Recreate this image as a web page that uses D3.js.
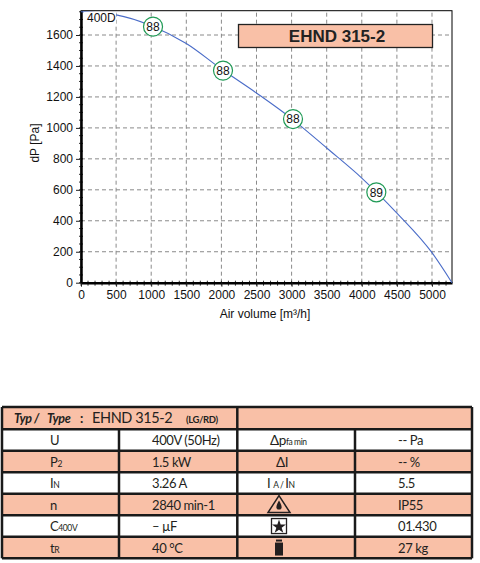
<!DOCTYPE html>
<html>
<head>
<meta charset="utf-8">
<script src="https://cdn.jsdelivr.net/npm/d3@7"></script>
<style>
  body { margin: 0; background: #fff; }
  svg { display: block; }
</style>
</head>
<body>
<svg></svg>
<script>
// fan curve
var flow = [0, 500, 1000, 1500, 2000, 2500, 3000, 3500, 4000, 4500, 5000, 5285];
var dp = [1750, 1730, 1660, 1545, 1380, 1225, 1060, 870, 676, 450, 194, 0];

// efficiency markers on the curve
var markFlow = [1026, 2023, 3020, 4207];
var markDp = [1654, 1370, 1057, 584];
var markText = ["88", "88", "88", "89"];

var xTicks = [0, 500, 1000, 1500, 2000, 2500, 3000, 3500, 4000, 4500, 5000];
var yTicks = [0, 200, 400, 600, 800, 1000, 1200, 1400, 1600];

// table
var rowMain = ["U", "P", "I", "n", "C", "t"];
var rowSub = ["", "2", "N", "", "400V", "R"];
var rowValue = ["400V (50Hz)", "1.5 kW", "3.26 A", "2840 min-1", "\u2013 \u00b5F", "40 \u00b0C"];
var rowValue2 = ["-- Pa", "-- %", "5.5", "IP55", "01.430", "27 kg"];

var W = 480, H = 563;
var salmon = "#f9c0a7";

var svg = d3.select('svg')
    .attr('width', W)
    .attr('height', H);

var x = d3.scaleLinear().domain([0, 5285]).range([81, 452]);
var y = d3.scaleLinear().domain([0, 1757]).range([282.7, 10.7]);

var chartFont = "'Liberation Sans', Arial, sans-serif";

// grid
svg.append('g')
    .selectAll('line')
    .data(xTicks.slice(1))
    .enter()
    .append('line')
    .attr('x1', d => x(d)).attr('x2', d => x(d))
    .attr('y1', y.range()[0]).attr('y2', y.range()[1])
    .attr('stroke', '#8a8a8a')
    .attr('stroke-dasharray', '4,3');

svg.append('g')
    .selectAll('line')
    .data(yTicks.slice(1))
    .enter()
    .append('line')
    .attr('y1', d => y(d)).attr('y2', d => y(d))
    .attr('x1', x.range()[0]).attr('x2', x.range()[1])
    .attr('stroke', '#8a8a8a')
    .attr('stroke-dasharray', '4,3');

// frame
svg.append('rect')
    .attr('x', x.range()[0]).attr('y', y.range()[1])
    .attr('width', x.range()[1] - x.range()[0])
    .attr('height', y.range()[0] - y.range()[1])
    .attr('fill', 'none')
    .attr('stroke', '#000')
    .attr('stroke-width', 1);

// minor ticks
svg.append('g')
    .selectAll('line')
    .data(d3.range(0, 5300, 100))
    .enter()
    .append('line')
    .attr('x1', d => x(d)).attr('x2', d => x(d))
    .attr('y1', y(0) - 2).attr('y2', y(0) + 3)
    .attr('stroke', '#333');

svg.append('g')
    .selectAll('line')
    .data(d3.range(0, 1757, 50))
    .enter()
    .append('line')
    .attr('y1', d => y(d)).attr('y2', d => y(d))
    .attr('x1', x(0) - 2).attr('x2', x(0) + 2)
    .attr('stroke', '#333');

// axes
var xAxis = svg.append('g')
    .attr('transform', 'translate(0,' + y(0) + ')')
    .call(d3.axisBottom(x).tickValues(xTicks).tickFormat(d3.format('d'))
        .tickSize(4).tickSizeOuter(0).tickPadding(4));
var yAxis = svg.append('g')
    .attr('transform', 'translate(' + x(0) + ',0)')
    .call(d3.axisLeft(y).tickValues(yTicks).tickFormat(d3.format('d'))
        .tickSize(5).tickSizeOuter(0).tickPadding(3));

[xAxis, yAxis].forEach(function(a) {
    a.select('.domain').attr('stroke', '#000').attr('stroke-width', 2.5);
    a.selectAll('text').attr('font-family', chartFont).attr('font-size', '12px').attr('fill', '#111');
    a.selectAll('.tick line').attr('stroke', '#222');
});

svg.append('text')
    .attr('x', 265).attr('y', 318)
    .attr('text-anchor', 'middle')
    .attr('font-family', chartFont).attr('font-size', '12px').attr('fill', '#111')
    .text('Air volume [m\u00b3/h]');

svg.append('text')
    .attr('transform', 'translate(39,143) rotate(-90)')
    .attr('text-anchor', 'middle')
    .attr('font-family', chartFont).attr('font-size', '12px').attr('fill', '#111')
    .text('dP [Pa]');

// curve
var line = d3.line()
    .x(function(d, i) { return x(flow[i]); })
    .y(function(d) { return y(d); })
    .curve(d3.curveMonotoneX);

svg.append('path')
    .datum(dp)
    .attr('d', line)
    .attr('fill', 'none')
    .attr('stroke', '#4a6cc8')
    .attr('stroke-width', 1.1);

// curve name, on a white patch like the original
svg.append('rect')
    .attr('x', 84).attr('y', 12)
    .attr('width', 32).attr('height', 14)
    .attr('fill', '#fff');
svg.append('text')
    .attr('x', 87).attr('y', 22)
    .attr('font-family', chartFont).attr('font-size', '12px').attr('fill', '#111')
    .text('400D');

var marks = svg.append('g')
    .selectAll('g')
    .data(markFlow)
    .enter()
    .append('g')
    .attr('transform', function(d, i) { return 'translate(' + x(d) + ',' + y(markDp[i]) + ')'; });

marks.append('circle')
    .attr('r', 9.5)
    .attr('fill', '#fff')
    .attr('stroke', '#1f9a55')
    .attr('stroke-width', 1.2);

marks.append('text')
    .attr('y', 4.3)
    .attr('text-anchor', 'middle')
    .attr('font-family', chartFont).attr('font-size', '12px').attr('fill', '#111')
    .text(function(d, i) { return markText[i]; });

// title box
svg.append('rect')
    .attr('x', 238.5).attr('y', 24.5)
    .attr('width', 194).attr('height', 23)
    .attr('fill', salmon)
    .attr('stroke', '#222')
    .attr('stroke-width', 1.3);

svg.append('text')
    .attr('x', 337).attr('y', 42)
    .attr('text-anchor', 'middle')
    .attr('font-family', chartFont).attr('font-size', '17px').attr('font-weight', 'bold').attr('fill', '#222')
    .text('EHND 315-2');

// ---- data table ----
var tFont = "Lato, 'Open Sans', sans-serif";
var tSize = '13px', tSub = '8.5px', tLs = '-0.4px';
var tLeft = 2, tRight = 472, tTop = 407, headBottom = 429.3, rowH = 21.5;
var colX = [tLeft, 119, 237.3, 355, tRight];

var tbl = svg.append('g').attr('letter-spacing', tLs);

tbl.append('rect')
    .attr('x', tLeft).attr('y', tTop)
    .attr('width', tRight - tLeft).attr('height', headBottom - tTop)
    .attr('fill', salmon);

tbl.selectAll('rect.row')
    .data(rowMain)
    .enter()
    .append('rect')
    .attr('class', 'row')
    .attr('x', tLeft)
    .attr('y', function(d, i) { return headBottom + i * rowH; })
    .attr('width', tRight - tLeft)
    .attr('height', rowH)
    .attr('fill', function(d, i) { return i % 2 ? salmon : '#fff'; });

var tBottom = headBottom + rowMain.length * rowH;

// horizontal rules
tbl.selectAll('line.h')
    .data(d3.range(rowMain.length + 2))
    .enter()
    .append('line')
    .attr('x1', tLeft).attr('x2', tRight)
    .attr('y1', function(d) { return d === 0 ? tTop : headBottom + (d - 1) * rowH; })
    .attr('y2', function(d) { return d === 0 ? tTop : headBottom + (d - 1) * rowH; })
    .attr('stroke', '#1a1a1a')
    .attr('stroke-width', 2.5);

// vertical rules
tbl.selectAll('line.v')
    .data(colX)
    .enter()
    .append('line')
    .attr('x1', d => d).attr('x2', d => d)
    .attr('y1', function(d, i) { return (i === 1 || i === 3) ? headBottom : tTop; })
    .attr('y2', tBottom)
    .attr('stroke', '#1a1a1a')
    .attr('stroke-width', 2.5);

// header
var hy = tTop + 15.5;
var head = tbl.append('g').attr('font-family', tFont).attr('fill', '#231f20');
head.append('text').attr('x', 14).attr('y', hy).attr('font-size', '12.5px')
    .attr('font-weight', 'bold').attr('font-style', 'italic').text('Typ /');
head.append('text').attr('x', 47).attr('y', hy).attr('font-size', '12.5px')
    .attr('font-weight', 'bold').attr('font-style', 'italic').text('Type');
head.append('text').attr('x', 80).attr('y', hy).attr('font-size', '13px')
    .attr('font-weight', 'bold').text(':');
head.append('text').attr('x', 92).attr('y', hy).attr('font-size', '14.5px').text('EHND 315-2');
head.append('text').attr('x', 186).attr('y', hy).attr('font-size', '9.5px')
    .attr('font-weight', 'bold').text('(LG/RD)');

var rowY = function(i) { return headBottom + i * rowH + rowH / 2 + 5; };

// column 1 labels
var lab = tbl.selectAll('text.lab')
    .data(rowMain)
    .enter()
    .append('text')
    .attr('x', 50)
    .attr('y', function(d, i) { return rowY(i); })
    .attr('font-family', tFont).attr('font-size', tSize).attr('fill', '#231f20');
lab.append('tspan').text(d => d);
lab.append('tspan').attr('font-size', tSub).text(function(d, i) { return rowSub[i]; });

// column 2 values
tbl.selectAll('text.v1')
    .data(rowValue)
    .enter()
    .append('text')
    .attr('x', 152)
    .attr('y', function(d, i) { return rowY(i); })
    .attr('font-family', tFont).attr('font-size', tSize).attr('fill', '#231f20')
    .text(d => d);

// column 4 values
tbl.selectAll('text.v2')
    .data(rowValue2)
    .enter()
    .append('text')
    .attr('x', 398)
    .attr('y', function(d, i) { return rowY(i); })
    .attr('font-family', tFont).attr('font-size', tSize).attr('fill', '#231f20')
    .text(d => d);

// column 3 symbols
var c3 = tbl.append('g').attr('font-family', tFont).attr('fill', '#231f20');
var t0 = c3.append('text').attr('x', 270).attr('y', rowY(0)).attr('font-size', '13.5px');
t0.append('tspan').text('\u0394p');
t0.append('tspan').attr('font-size', '8.5px').text('fa min');
c3.append('text').attr('x', 276).attr('y', rowY(1)).attr('font-size', '13.5px').text('\u0394I');
var t2 = c3.append('text').attr('x', 267).attr('y', rowY(2)).attr('font-size', tSize);
t2.append('tspan').text('I ');
t2.append('tspan').attr('font-size', tSub).text('A / ');
t2.append('tspan').text('I');
t2.append('tspan').attr('font-size', tSub).text('N');

// warning triangle
var cy3 = headBottom + 3 * rowH + rowH / 2;
c3.append('path')
    .attr('d', 'M279,' + (cy3 - 9) + 'L290,' + (cy3 + 8) + 'L268,' + (cy3 + 8) + 'Z')
    .attr('fill', 'none').attr('stroke', '#231f20').attr('stroke-width', 1.5);
c3.append('path')
    .attr('d', 'M279,' + (cy3 - 4) + 'C282,' + (cy3 + 1) + ' 283,' + (cy3 + 5) + ' 279,' + (cy3 + 5) +
          'C275,' + (cy3 + 5) + ' 276,' + (cy3 + 1) + ' 279,' + (cy3 - 4) + 'Z')
    .attr('fill', '#231f20');

// star in a box
var cy4 = headBottom + 4 * rowH + rowH / 2;
c3.append('rect')
    .attr('x', 271.5).attr('y', cy4 - 7.5).attr('width', 15).attr('height', 15)
    .attr('fill', '#fff').attr('stroke', '#231f20').attr('stroke-width', 1.3);
c3.append('path')
    .attr('transform', 'translate(279,' + (cy4 + 0.8) + ')')
    .attr('d', d3.symbol().type(d3.symbolStar).size(60))
    .attr('fill', '#231f20');

// weight
var cy5 = headBottom + 5 * rowH + rowH / 2;
c3.append('rect').attr('x', 275).attr('y', cy5 - 5).attr('width', 8).attr('height', 13).attr('fill', '#231f20');
c3.append('rect').attr('x', 276).attr('y', cy5 - 8).attr('width', 6).attr('height', 2).attr('fill', '#231f20');
</script>
</body>
</html>
